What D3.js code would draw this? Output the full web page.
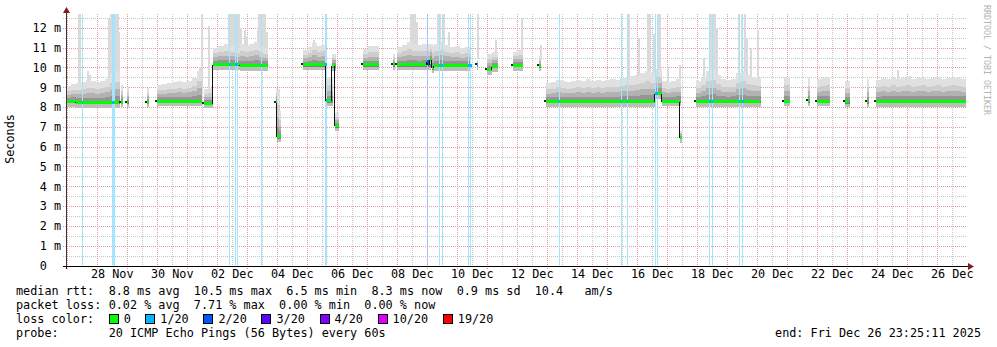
<!DOCTYPE html>
<html>
<head>
<meta charset="utf-8">
<script src="https://d3js.org/d3.v7.min.js"></script>
<style>
  body { margin: 0; background: #fff; }
  text { font-family: "DejaVu Sans Mono", monospace; font-size: 11.8px; fill: #000; white-space: pre; }
</style>
</head>
<body>
<svg id="chart" width="997" height="347"></svg>
<script>
// ---- values ----
const graphStart = "2025-11-26 23:25:11";
const graphEnd = "2025-12-26 23:25:11";

// median rtt runs: [from, to, median in ms]
const medianRuns = [
  ["11-26 23:25", "11-27 07:25", 8.32],
  ["11-27 07:25", "11-28 18:10", 8.26],
  ["11-28 19:25", "11-28 21:00", 8.28],
  ["11-28 23:50", "11-29 01:25", 8.28],
  ["11-29 16:35", "11-29 17:50", 8.28],
  ["11-30 00:10", "12-01 11:50", 8.33],
  ["12-01 13:50", "12-01 21:00", 8.23],
  ["12-01 21:00", "12-02 18:35", 10.17],
  ["12-02 18:35", "12-03 17:00", 10.13],
  ["12-03 23:25", "12-04 00:35", 8.27],
  ["12-04 00:35", "12-04 03:25", 6.52],
  ["12-04 21:25", "12-05 15:25", 10.15],
  ["12-05 15:25", "12-05 20:30", 8.35],
  ["12-05 20:30", "12-05 22:55", 10.1],
  ["12-05 22:55", "12-06 01:50", 7.08],
  ["12-06 20:50", "12-07 09:50", 10.15],
  ["12-07 20:50", "12-07 22:05", 10.15],
  ["12-08 00:00", "12-08 23:50", 10.15],
  ["12-08 23:50", "12-09 01:00", 10.35],
  ["12-09 01:00", "12-09 03:00", 10.15],
  ["12-09 03:00", "12-09 04:35", 10.45],
  ["12-09 04:35", "12-09 05:50", 10.0],
  ["12-09 05:50", "12-10 11:00", 10.13],
  ["12-10 15:50", "12-10 17:00", 10.15],
  ["12-10 23:50", "12-11 04:10", 9.92],
  ["12-11 04:10", "12-11 09:00", 10.07],
  ["12-11 21:00", "12-12 05:00", 10.12],
  ["12-12 18:10", "12-12 19:25", 10.1],
  ["12-12 23:25", "12-16 14:35", 8.31],
  ["12-16 14:35", "12-16 19:50", 8.72],
  ["12-16 19:50", "12-17 11:00", 8.33],
  ["12-17 11:00", "12-17 11:50", 6.5],
  ["12-17 23:25", "12-20 03:00", 8.32],
  ["12-20 21:50", "12-21 02:35", 8.33],
  ["12-21 17:25", "12-21 18:10", 8.35],
  ["12-22 00:10", "12-22 10:35", 8.33],
  ["12-22 22:35", "12-23 02:10", 8.3],
  ["12-23 15:50", "12-23 17:25", 8.3],
  ["12-23 23:25", "12-26 23:25", 8.32]
];

// top of the smoke (ms) for each run, spread evenly over the run
const smokeTops = [
  [9.05, 9.15],
  [9.2, 9.25, 9.35, 9.3, 9.25, 9.3, 9.4, 9.7, 9.8],
  [9.1],
  [9.0],
  [8.95],
  [9.1, 9.15, 9.2, 9.25, 9.3, 9.25, 9.3, 9.45, 9.8],
  [8.9, 8.95],
  [11.0, 11.1, 11.2, 11.1, 11.0],
  [11.2, 11.1, 11.2, 11.3, 11.1, 11.0],
  [8.9],
  [8.9, 7.8],
  [10.9, 11.05, 11.25, 11.1, 11.15],
  [9.5],
  [10.7],
  [7.7],
  [10.95, 11.1, 11.1],
  [10.7],
  [11.05, 11.15, 11.3, 11.2, 11.15, 11.2],
  [11.1],
  [11.2],
  [11.2],
  [11.1],
  [11.2, 11.3, 11.15, 11.05, 11.1, 11.0, 11.05],
  [10.4],
  [10.7],
  [10.8],
  [10.8, 10.9],
  [10.6],
  [9.2, 9.25, 9.35, 9.3, 9.25, 9.3, 9.35, 9.3, 9.4, 9.3, 9.35, 9.3, 9.35, 9.4, 9.35, 9.45, 9.5, 9.55, 9.6, 9.7, 9.8, 9.7],
  [9.9],
  [9.3, 9.25, 9.3, 9.4],
  [6.8],
  [9.3, 9.5, 9.8, 9.9, 9.6, 9.4, 9.35, 9.4, 9.7, 9.8, 9.6, 9.5, 9.45],
  [9.5],
  [9.45],
  [9.4, 9.45, 9.5],
  [9.3],
  [9.4],
  [9.35, 9.45, 9.4, 9.5, 9.4, 9.45, 9.55, 9.4, 9.45, 9.5, 9.4, 9.45, 9.5, 9.4, 9.45, 9.5, 9.45, 9.4]
];

// single slow pings: [time, ms]
const spikes = [
  ["11-27 09:25", 12.7], ["11-27 10:10", 12.7], ["11-27 15:50", 9.8], ["11-27 17:50", 9.6],
  ["11-28 09:00", 12.45], ["11-28 10:15", 12.7], ["11-28 15:00", 12.7], ["11-28 16:10", 12.7], ["11-28 17:25", 11.8],
  ["12-01 09:50", 10.0], ["12-01 11:45", 12.7], ["12-01 17:15", 12.1],
  ["12-02 09:25", 12.7], ["12-02 10:35", 12.7], ["12-02 11:50", 12.7], ["12-02 13:00", 12.7],
  ["12-02 15:25", 12.7], ["12-02 17:25", 12.7], ["12-02 18:35", 12.0], ["12-02 21:50", 11.9], ["12-02 23:25", 11.6],
  ["12-03 07:50", 11.9], ["12-03 09:25", 12.7], ["12-03 10:35", 12.7], ["12-03 12:10", 12.7], ["12-03 13:50", 12.7], ["12-03 15:25", 11.8],
  ["12-05 05:25", 11.4],
  ["12-08 10:35", 12.7], ["12-08 12:10", 12.7], ["12-08 13:50", 12.7], ["12-08 15:25", 12.3],
  ["12-09 08:35", 12.7], ["12-09 09:50", 12.7], ["12-09 13:00", 12.7], ["12-09 17:00", 11.8],
  ["12-10 16:30", 12.7], ["12-11 07:00", 11.4], ["12-12 03:25", 12.5], ["12-12 18:35", 11.15],
  ["12-15 17:15", 12.7], ["12-16 01:00", 11.5], ["12-16 08:35", 12.7], ["12-16 09:50", 12.7], ["12-16 13:00", 11.7],
  ["12-16 17:00", 12.7], ["12-16 18:10", 12.7], ["12-17 00:00", 10.0], ["12-17 10:05", 10.1],
  ["12-18 05:00", 10.5], ["12-18 10:35", 12.7], ["12-18 12:10", 12.7], ["12-18 13:50", 12.7], ["12-18 15:25", 12.0],
  ["12-19 09:25", 12.7], ["12-19 11:25", 12.7], ["12-19 13:50", 12.7], ["12-19 15:25", 11.5], ["12-19 18:35", 11.0],
  ["12-20 00:00", 11.9], ["12-24 16:00", 9.85]
];

// loss periods shown as a stripe: [time, hours, loss level]
const lossLines = [
  ["11-27 12:00", 0.8, 1], ["11-28 12:10", 2.0, 1],
  ["12-02 10:05", 0.8, 1], ["12-02 14:50", 0.8, 1], ["12-02 16:10", 0.8, 1], ["12-03 11:10", 0.8, 1],
  ["12-05 15:00", 1.6, 1], ["12-09 00:30", 0.8, 2], ["12-09 10:00", 0.8, 1], ["12-09 12:00", 0.8, 1],
  ["12-10 09:25", 0.8, 1], ["12-10 10:50", 0.8, 1], ["12-13 09:40", 0.8, 1],
  ["12-15 11:10", 0.8, 1], ["12-15 16:00", 0.8, 1], ["12-16 15:00", 0.8, 1], ["12-16 16:10", 0.8, 1],
  ["12-18 10:10", 0.8, 1], ["12-18 11:50", 0.8, 1], ["12-19 09:40", 0.8, 1], ["12-19 12:30", 0.8, 1]
];
// loss shown only on the median line
const lossMarks = [["12-10 15:50", 1.2, 1]];

const lossLabels = ["0", "1/20", "2/20", "3/20", "4/20", "10/20", "19/20"];
const lossColors = ["#00ff00", "#00b8ff", "#0059ff", "#5e00ff", "#7e00ff", "#dd00ff", "#ff0000"];

const rttStats = ["8.8 ms avg", "10.5 ms max", "6.5 ms min", "8.3 ms now", "0.9 ms sd", "10.4   am/s"];
const lossStats = ["0.02 % avg", "7.71 % max", "0.00 % min", "0.00 % now"];
const probeText = "20 ICMP Echo Pings (56 Bytes) every 60s";
const endText = "end: Fri Dec 26 23:25:11 2025";

// ---- drawing ----
const svg = d3.select("#chart");
const pLeft = 66, pRight = 966, pTop = 14, pBottom = 265.5;
const cw = 7.125; // monospace advance

const T = s => d3.timeParse("%Y-%m-%d %H:%M")("2025-" + s);
const parseFull = d3.timeParse("%Y-%m-%d %H:%M:%S");
const tStart = parseFull(graphStart), tEnd = parseFull(graphEnd);

const x = d3.scaleTime().domain([tStart, tEnd]).range([pLeft, pRight]);
const y = d3.scaleLinear().domain([0, 12.7]).range([pBottom, pTop]);
const px = v => Math.round(v) + 0.5;

const runs = medianRuns.map((r, i) => ({ s: T(r[0]), e: T(r[1]), m: r[2], tops: smokeTops[i] }));
const runAt = t => runs.find(r => r.s <= t && t <= r.e);

svg.append("defs").append("clipPath").attr("id", "plotclip")
  .append("rect").attr("x", pLeft).attr("y", pTop).attr("width", pRight - pLeft).attr("height", pBottom - pTop);

// grid
const midnights = d3.timeDay.range(d3.timeDay.ceil(tStart), tEnd);
const noons = midnights.map(d => d3.timeHour.offset(d, 12)).filter(d => d < tEnd);
const minorCol = "#c6c6c6", majorCol = "#e39a9a";
const grid = svg.append("g").attr("shape-rendering", "crispEdges");

grid.selectAll("line.hmin").data(d3.range(0.5, 12.7, 1)).join("line")
  .attr("x1", pLeft - 3).attr("x2", pRight).attr("y1", d => px(y(d))).attr("y2", d => px(y(d)))
  .attr("stroke", minorCol).attr("stroke-dasharray", "1,1");
grid.selectAll("line.vmin").data(noons).join("line")
  .attr("x1", d => px(x(d))).attr("x2", d => px(x(d))).attr("y1", pTop).attr("y2", pBottom + 2)
  .attr("stroke", minorCol).attr("stroke-dasharray", "1,1");
grid.selectAll("line.hmaj").data(d3.range(1, 13)).join("line")
  .attr("x1", pLeft - 3).attr("x2", pRight).attr("y1", d => px(y(d))).attr("y2", d => px(y(d)))
  .attr("stroke", majorCol).attr("stroke-dasharray", "1,1");
grid.selectAll("line.vmaj").data(midnights).join("line")
  .attr("x1", d => px(x(d))).attr("x2", d => px(x(d))).attr("y1", pTop).attr("y2", pBottom + 3)
  .attr("stroke", majorCol).attr("stroke-dasharray", "1,1");

const plot = svg.append("g").attr("clip-path", "url(#plotclip)");

// tall single pings
plot.append("g").attr("shape-rendering", "crispEdges")
  .selectAll("rect").data(spikes.filter(d => runAt(T(d[0])))).join("rect")
  .attr("x", d => Math.round(x(T(d[0]))))
  .attr("width", 2)
  .attr("y", d => y(d[1]))
  .attr("height", d => y(runAt(T(d[0])).m + 0.3) - y(d[1]))
  .attr("fill", "#dadada");

// smoke
const upperBands = [[0.66, 1, "#e0e0e0"], [0.42, 0.66, "#cdcdcd"], [0.2, 0.42, "#b2b2b2"], [0, 0.2, "#959595"]];
const smokeG = plot.append("g").attr("shape-rendering", "crispEdges");
runs.forEach(r => {
  const x0 = x(r.s), w = (x(r.e) - x0) / r.tops.length;
  r.tops.forEach((tp, k) => {
    const cx = x0 + k * w;
    upperBands.forEach(b => {
      const hi = r.m + (tp - r.m) * b[1], lo = r.m + (tp - r.m) * b[0];
      smokeG.append("rect").attr("x", cx).attr("width", w + 0.4)
        .attr("y", y(hi)).attr("height", y(lo) - y(hi)).attr("fill", b[2]);
    });
    smokeG.append("rect").attr("x", cx).attr("width", w + 0.4)
      .attr("y", y(r.m - 0.12)).attr("height", y(r.m - 0.3) - y(r.m - 0.12)).attr("fill", "#bdbdbd");
    smokeG.append("rect").attr("x", cx).attr("width", w + 0.4)
      .attr("y", y(r.m)).attr("height", y(r.m - 0.12) - y(r.m)).attr("fill", "#7e7e7e");
  });
});

// loss stripes
const lossBg = lvl => d3.interpolateRgb("#ffffff", lossColors[lvl])(0.36);
plot.append("g").attr("shape-rendering", "crispEdges")
  .selectAll("rect").data(lossLines).join("rect")
  .attr("x", d => Math.round(x(T(d[0]))))
  .attr("width", d => Math.max(1, Math.round(x(d3.timeMinute.offset(T(d[0]), d[1] * 60)) - x(T(d[0])))))
  .attr("y", pTop).attr("height", pBottom - pTop)
  .attr("fill", d => lossBg(d[2]));

// median line
const medG = plot.append("g").attr("shape-rendering", "crispEdges");
runs.forEach((r, i) => {
  const prev = runs[i - 1];
  const ym = px(y(r.m));
  if (prev && +prev.e === +r.s) {
    medG.append("line").attr("x1", px(x(r.s)) - 1).attr("x2", px(x(r.s)) - 1)
      .attr("y1", px(y(prev.m))).attr("y2", ym).attr("stroke", "#111").attr("stroke-width", 1.2);
  } else {
    medG.append("rect").attr("x", Math.round(x(r.s)) - 2).attr("y", ym - 1.5)
      .attr("width", 2).attr("height", 2).attr("fill", "#222");
  }
  medG.append("line").attr("x1", x(r.s)).attr("x2", Math.max(x(r.e), x(r.s) + 1.5))
    .attr("y1", ym).attr("y2", ym).attr("stroke", lossColors[0]).attr("stroke-width", 3);
});
lossLines.concat(lossMarks).forEach(d => {
  const s = T(d[0]), e = d3.timeMinute.offset(s, d[1] * 60);
  runs.filter(r => r.s < e && r.e > s).forEach(r => {
    const a = x(s > r.s ? s : r.s), b = x(e < r.e ? e : r.e);
    medG.append("line").attr("x1", a).attr("x2", Math.max(b, a + 1.5))
      .attr("y1", px(y(r.m))).attr("y2", px(y(r.m)))
      .attr("stroke", lossColors[d[2]]).attr("stroke-width", 3);
  });
});

// axes
const yAxis = svg.append("g").attr("transform", `translate(${pLeft},0)`)
  .call(d3.axisLeft(y).tickValues(d3.range(0, 13)).tickSize(0).tickPadding(5)
    .tickFormat(v => v === 0 ? "0  " : `${v} m`));
yAxis.select(".domain").remove();
yAxis.attr("font-family", null).attr("font-size", null);

const labelDays = noons.filter(d => d3.timeDay.count(T("11-28 00:00"), d) % 2 === 0);
const xAxis = svg.append("g").attr("transform", `translate(0,${pBottom})`)
  .call(d3.axisBottom(x).tickValues(labelDays).tickSize(0).tickPadding(4.5)
    .tickFormat(d3.timeFormat("%d %b")));
xAxis.select(".domain").remove();
xAxis.attr("font-family", null).attr("font-size", null);

svg.append("line").attr("x1", pLeft + 0.5).attr("x2", pLeft + 0.5).attr("y1", pBottom + 3).attr("y2", 10)
  .attr("stroke", "#4a3535").attr("shape-rendering", "crispEdges");
svg.append("line").attr("x1", pLeft - 3).attr("x2", pRight + 4).attr("y1", px(pBottom)).attr("y2", px(pBottom))
  .attr("stroke", "#000").attr("shape-rendering", "crispEdges");
svg.append("path").attr("d", `M${pLeft + 0.5},7 L${pLeft + 4},13 L${pLeft - 3},13 Z`).attr("fill", "#7d1f1f");
svg.append("path").attr("d", `M${pRight + 8},${px(pBottom)} L${pRight + 2},${px(pBottom) - 3.5} L${pRight + 2},${px(pBottom) + 3.5} Z`).attr("fill", "#7d1f1f");

// titles
svg.append("text").attr("transform", "translate(14,139) rotate(-90)").attr("text-anchor", "middle").text("Seconds");
svg.append("text").attr("transform", "translate(984,5) rotate(90)")
  .style("font-size", "8.3px").style("fill", "#b3b3b3").text("RRDTOOL / TOBI OETIKER");

// legend
const lx = 16, col0 = lx + 13 * cw;
svg.append("text").attr("x", lx).attr("y", 295).text("median rtt:");
svg.append("text").attr("x", col0).attr("y", 295).text(rttStats.join("  "));
svg.append("text").attr("x", lx).attr("y", 309).text("packet loss:");
svg.append("text").attr("x", col0).attr("y", 309).text(lossStats.join("  "));
svg.append("text").attr("x", lx).attr("y", 323).text("loss color:");
let cursor = col0;
lossLabels.forEach((lab, i) => {
  svg.append("rect").attr("x", Math.round(cursor) + 0.5).attr("y", 314.5).attr("width", 9).attr("height", 9)
    .attr("fill", lossColors[i]).attr("stroke", "#000").attr("shape-rendering", "crispEdges");
  svg.append("text").attr("x", cursor + 15).attr("y", 323).text(lab);
  cursor += (lab.length + 4.15) * cw;
});
svg.append("text").attr("x", lx).attr("y", 337).text("probe:");
svg.append("text").attr("x", col0).attr("y", 337).text(probeText);
svg.append("text").attr("x", 981).attr("y", 337).attr("text-anchor", "end").text(endText);
</script>
</body>
</html>
